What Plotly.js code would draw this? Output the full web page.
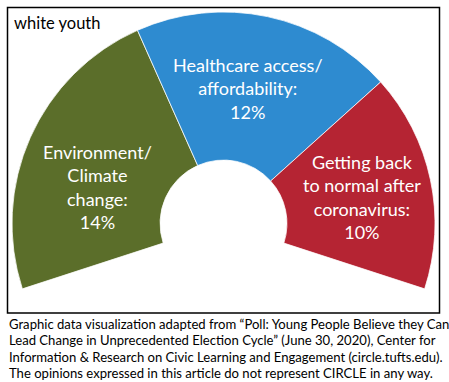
<!DOCTYPE html>
<html>
<head>
<meta charset="utf-8">
<script src="https://cdn.plot.ly/plotly-3.0.1.min.js"></script>
<style>
html,body{margin:0;padding:0;overflow:hidden;background:#fff;width:449px;height:382px;}
#chart{width:449px;height:446px;}
</style>
</head>
<body>
<div id="chart"></div>
<script>
// ---- data ----
var categories = ["Environment/<br>Climate<br>change:", "Healthcare access/<br>affordability:", "Getting back<br>to normal after<br>coronavirus:"];
var values = [14, 12, 10];
var colors = ["#5b6e2a", "#2e8bd0", "#b52433"];
var hiddenShare = 24; // invisible bottom part of the gauge
var chartTitle = "white youth";
var captionLines = [
  "Graphic data visualization adapted from \u201cPoll: Young People Believe they Can",
  "Lead Change in Unprecedented Election Cycle\u201d (June 30, 2020), Center for",
  "Information &amp; Research on Civic Learning and Engagement (circle.tufts.edu).",
  "The opinions expressed in this article do not represent CIRCLE in any way."
];

// ---- layout helpers (pixel -> paper) ----
var W = 449, H = 446, ML = 12, MR = 14, MT = 12, MB = 11;
var PW = W - ML - MR, PH = H - MT - MB;
function px(x){ return (x - ML) / PW; }
function py(y){ return 1 - (y - MT) / PH; }

var FONT = "Lato, 'Open Sans', sans-serif";

var trace = {
  type: "pie",
  values: values.concat([hiddenShare]),
  labels: categories.concat(["hidden"]),
  sort: false,
  direction: "clockwise",
  rotation: -108,
  hole: 0.30,
  textinfo: "none",
  hoverinfo: "skip",
  showlegend: false,
  marker: {
    colors: colors.concat(["rgba(255,255,255,0)"]),
    line: {color: ["rgba(255,255,255,0.75)","rgba(255,255,255,0.75)","rgba(255,255,255,0.75)","rgba(255,255,255,0)"], width: 1}
  },
  domain: {x: [0, 1], y: [0, 1]}
};

var labelPos = [[97, 187], [248, 88], [362, 197]];
var annotations = values.map(function(v, i){
  return {
    xref: "paper", yref: "paper",
    x: px(labelPos[i][0]), y: py(labelPos[i][1]),
    xanchor: "center", yanchor: "middle",
    text: categories[i] + "<br>" + v + "%",
    showarrow: false,
    align: "center",
    font: {family: FONT, size: 18, color: "#ffffff"}
  };
});
annotations.push({
  xref: "paper", yref: "paper",
  x: px(12), y: py(23), xanchor: "left", yanchor: "middle",
  text: chartTitle, showarrow: false,
  font: {family: FONT, size: 16.5, color: "#000000"}
});
captionLines.forEach(function(line, i){
  annotations.push({
    xref: "paper", yref: "paper",
    x: px(7), y: py(324 + i * 16.3), xanchor: "left", yanchor: "middle",
    text: line, showarrow: false, align: "left",
    font: {family: FONT, size: 13.1, color: "#000000"}
  });
});

var layout = {
  width: W, height: H,
  margin: {l: ML, r: MR, t: MT, b: MB, pad: 0},
  paper_bgcolor: "#ffffff",
  plot_bgcolor: "#ffffff",
  showlegend: false,
  annotations: annotations,
  shapes: [{
    type: "rect", xref: "paper", yref: "paper",
    x0: px(7.5), x1: px(439.5), y0: py(313), y1: py(7.5),
    line: {color: "#000000", width: 1.5},
    fillcolor: "rgba(0,0,0,0)",
    layer: "above"
  }]
};

Plotly.newPlot("chart", [trace], layout, {displayModeBar: false, staticPlot: true});
</script>
</body>
</html>
